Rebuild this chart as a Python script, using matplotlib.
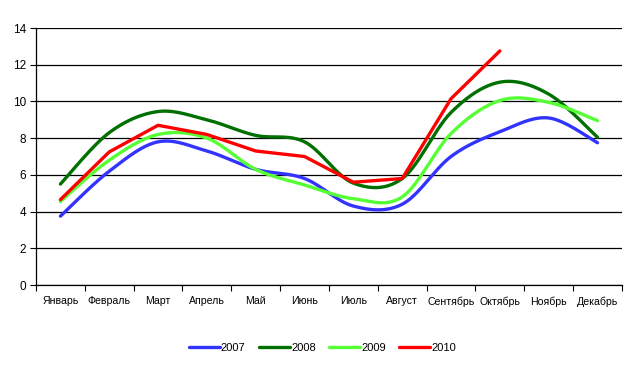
import matplotlib
matplotlib.use("Agg")
import matplotlib.pyplot as plt
import numpy as np

plt.rcParams['font.family'] = ['Liberation Sans', 'DejaVu Sans']

months = ["Январь", "Февраль", "Март", "Апрель", "Май", "Июнь",
          "Июль", "Август", "Сентябрь", "Октябрь", "Ноябрь", "Декабрь"]

y2007 = [3.75, 6.2, 7.8, 7.3, 6.3, 5.8, 4.3, 4.4, 7.0, 8.35, 9.1, 7.75]
y2008 = [5.5, 8.3, 9.45, 9.0, 8.15, 7.8, 5.55, 5.8, 9.4, 11.05, 10.4, 8.05]
y2009 = [4.55, 6.8, 8.2, 8.0, 6.3, 5.45, 4.7, 4.8, 8.25, 10.05, 9.95, 8.95]
y2010 = [4.65, 7.25, 8.7, 8.2, 7.3, 7.0, 5.6, 5.8, 10.15, 12.75]

series = [("2007", y2007, "#3333ff", True),
          ("2008", y2008, "#007000", True),
          ("2009", y2009, "#55ff33", True),
          ("2010", y2010, "#ff0000", False)]


def smooth(x, y, n=30):
    """Excel-like smoothed line: cubic bezier through the points"""
    x = np.asarray(x, float)
    y = np.asarray(y, float)
    px, py = [], []
    for i in range(len(x) - 1):
        x0, y0 = (x[i - 1], y[i - 1]) if i > 0 else (x[i], y[i])
        x3, y3 = (x[i + 2], y[i + 2]) if i + 2 < len(x) else (x[i + 1], y[i + 1])
        c1x = x[i] + (x[i + 1] - x0) / 6.0
        c1y = y[i] + (y[i + 1] - y0) / 6.0
        c2x = x[i + 1] - (x3 - x[i]) / 6.0
        c2y = y[i + 1] - (y3 - y[i]) / 6.0
        t = np.linspace(0, 1, n)
        bx = (1-t)**3*x[i] + 3*(1-t)**2*t*c1x + 3*(1-t)*t**2*c2x + t**3*x[i+1]
        by = (1-t)**3*y[i] + 3*(1-t)**2*t*c1y + 3*(1-t)*t**2*c2y + t**3*y[i+1]
        px.extend(bx)
        py.extend(by)
    return px, py


fig = plt.figure(figsize=(6.26, 3.67), dpi=100)
ax = fig.add_axes([0.0575, 0.2234, 0.936, 0.7003])

for name, vals, color, sm in series:
    xs = np.arange(len(vals)) + 0.5
    if sm:
        xs, vals = smooth(xs, vals)
    ax.plot(xs, vals, color=color, lw=2.4, label=name, solid_capstyle='round')

ax.set_xlim(0, 12)
ax.set_ylim(0, 14)
ax.set_yticks(range(0, 15, 2))
ax.yaxis.grid(True, color='black', lw=0.9)
ax.set_axisbelow(True)
ax.set_xticks(range(0, 13))
ax.set_xticklabels([])
ax.set_xticks(np.arange(12) + 0.5, minor=True)
ax.set_xticklabels(months, minor=True, fontsize=7.6)
ax.tick_params(axis='x', which='minor', length=0, pad=8)
ax.tick_params(axis='x', which='major', length=4, direction='out')
ax.tick_params(axis='y', length=4, direction='out', labelsize=8.5, pad=3)
for s in ['top', 'right']:
    ax.spines[s].set_visible(False)
for s in ['left', 'bottom']:
    ax.spines[s].set_linewidth(0.9)

leg = fig.legend(loc='lower center', bbox_to_anchor=(0.515, 0.01), ncol=4,
                 frameon=False, fontsize=8, handlelength=2.8,
                 handletextpad=0.1, columnspacing=1.2)

fig.savefig("out.png", dpi=100)
